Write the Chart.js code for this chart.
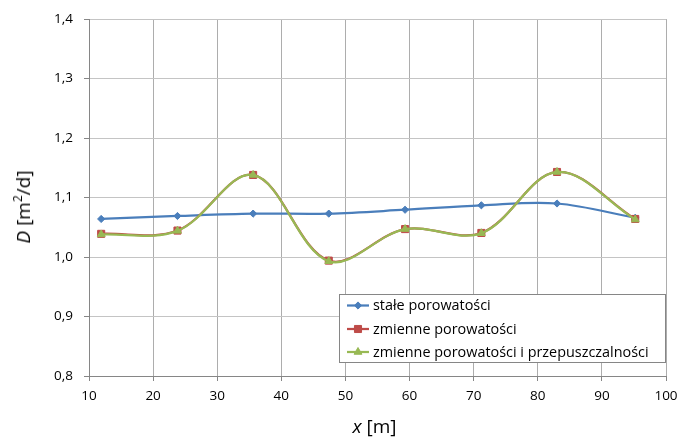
<!DOCTYPE html>
<html>
<head>
<meta charset="utf-8">
<script src="https://cdn.jsdelivr.net/npm/chart.js@4"></script>
<style>
  html, body { margin: 0; padding: 0; background: #fff; }
  #wrap { position: relative; width: 693px; height: 437px; }
  canvas { position: absolute; left: 0; top: 0; }
  .title { position: absolute; font-family: "Open Sans", "Liberation Sans", sans-serif; font-size: 19px; line-height: 24px; color: #000; white-space: nowrap; }
  .title sup { font-size: 12px; vertical-align: 8px; line-height: 0; }
  #xTitle { left: 0; width: 749px; text-align: center; top: 414px; }
  #yTitle { left: 22.5px; top: 206.5px; transform: translate(-50%, -50%) rotate(-90deg); }
</style>
</head>
<body>
<div id="wrap">
  <canvas id="c" width="693" height="437"></canvas>
  <div class="title" id="xTitle"><i>x</i> [m]</div>
  <div class="title" id="yTitle"><i>D</i> [m<sup>2</sup>/d]</div>
</div>
<script>
const xValues = [11.9, 23.8, 35.6, 47.4, 59.3, 71.2, 83.0, 95.2];
const staleValues = [1.064, 1.069, 1.073, 1.073, 1.0795, 1.087, 1.090, 1.066];
const zmienneValues = [1.039, 1.0445, 1.138, 0.994, 1.047, 1.0405, 1.143, 1.064];
const zmiennePrzepValues = [1.038, 1.044, 1.138, 0.993, 1.047, 1.040, 1.143, 1.063];
const seriesNames = ["stałe porowatości", "zmienne porowatości", "zmienne porowatości i przepuszczalności"];
const xTicks = [10, 20, 30, 40, 50, 60, 70, 80, 90, 100];
const yTicks = [0.8, 0.9, 1.0, 1.1, 1.2, 1.3, 1.4];

const FONT = '"Open Sans", "Liberation Sans", sans-serif';
const colors = ['#4A7EBB', '#BE4B48', '#98B954'];
const styles = ['rectRot', 'rect', 'triangle'];
const radii = [3.6, 5, 4.5];

function pts(vals) { return vals.map((v, i) => ({ x: xValues[i], y: v })); }

const legendPlugin = {
  id: 'boxLegend',
  afterDraw(chart) {
    const ctx = chart.ctx;
    const bx = 339.5, by = 294.5, bw = 326, bh = 68;
    ctx.save();
    ctx.fillStyle = '#fff';
    ctx.fillRect(bx, by, bw, bh);
    ctx.strokeStyle = '#868686';
    ctx.lineWidth = 1;
    ctx.strokeRect(bx, by, bw, bh);
    ctx.font = '14.4px ' + FONT;
    ctx.textBaseline = 'middle';
    const rows = [305.5, 329, 352];
    chart.data.datasets.forEach((ds, i) => {
      const y = rows[i];
      ctx.strokeStyle = colors[i];
      ctx.lineWidth = 2.25;
      ctx.beginPath(); ctx.moveTo(347, y); ctx.lineTo(369, y); ctx.stroke();
      ctx.fillStyle = colors[i];
      ctx.lineWidth = 1;
      Chart.helpers.drawPoint(ctx, { pointStyle: styles[i], radius: radii[i], borderWidth: 1 }, 358, y);
      ctx.fillStyle = '#000';
      ctx.fillText(ds.label, 373, y + 0.5);
    });
    ctx.restore();
  }
};

function makeDs(label, vals, i, order) {
  return {
    label: label,
    data: pts(vals),
    borderColor: colors[i],
    backgroundColor: colors[i],
    pointBackgroundColor: colors[i],
    pointBorderColor: colors[i],
    pointStyle: styles[i],
    pointRadius: radii[i],
    pointBorderWidth: 1,
    borderWidth: 2.25,
    tension: 0.35,
    fill: false,
    order: order
  };
}

new Chart(document.getElementById('c'), {
  type: 'line',
  data: {
    datasets: [
      makeDs(seriesNames[0], staleValues, 0, 3),
      makeDs(seriesNames[1], zmienneValues, 1, 2),
      makeDs(seriesNames[2], zmiennePrzepValues, 2, 1)
    ]
  },
  options: {
    responsive: false,
    animation: false,
    devicePixelRatio: 1,
    layout: { padding: { left: 0, right: 27, top: 16, bottom: 0 } },
    plugins: { legend: { display: false }, tooltip: { enabled: false } },
    scales: {
      x: {
        type: 'linear',
        min: xTicks[0], max: xTicks[xTicks.length - 1],
        afterBuildTicks(s) { s.ticks = xTicks.map(v => ({ value: v })); },
        afterFit(s) { s.height = 61; },
        ticks: { font: { family: FONT, size: 13.5 }, color: '#000', padding: 7, maxRotation: 0,
                 callback: v => String(v) },
        grid: { color: '#ADADAD', tickColor: '#868686', tickLength: 5, lineWidth: 1, drawTicks: true },
        border: { color: '#868686', width: 1 }
      },
      y: {
        type: 'linear',
        min: yTicks[0], max: yTicks[yTicks.length - 1],
        afterBuildTicks(s) { s.ticks = yTicks.map(v => ({ value: v })); },
        afterFit(s) { s.width = 89; },
        ticks: { font: { family: FONT, size: 13.5 }, color: '#000', padding: 11,
                 callback: v => v.toFixed(1).replace('.', ',') },
        grid: { color: '#C4C4C4', tickColor: '#868686', tickLength: 5, lineWidth: 1, drawTicks: true },
        border: { color: '#868686', width: 1 }
      }
    }
  },
  plugins: [legendPlugin]
});
</script>
</body>
</html>
